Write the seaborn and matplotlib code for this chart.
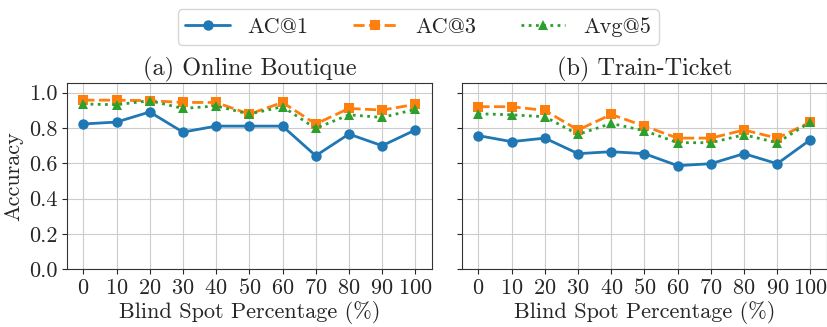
import pandas as pd
import numpy as np
import matplotlib
matplotlib.use('Agg')
import matplotlib.pyplot as plt
import seaborn as sns

# blind spot percentages
blind_spot = [0, 10, 20, 30, 40, 50, 60, 70, 80, 90, 100]

# (a) Online Boutique
ob_ac1 = [0.823, 0.834, 0.891, 0.777, 0.811, 0.811, 0.811, 0.643, 0.766, 0.700, 0.789]
ob_ac3 = [0.958, 0.958, 0.955, 0.945, 0.945, 0.879, 0.945, 0.823, 0.911, 0.902, 0.934]
ob_avg5 = [0.936, 0.932, 0.955, 0.911, 0.925, 0.879, 0.921, 0.798, 0.875, 0.860, 0.906]

# (b) Train-Ticket
tt_ac1 = [0.757, 0.723, 0.743, 0.655, 0.666, 0.655, 0.587, 0.598, 0.655, 0.598, 0.734]
tt_ac3 = [0.921, 0.921, 0.900, 0.789, 0.877, 0.811, 0.743, 0.743, 0.789, 0.743, 0.834]
tt_avg5 = [0.881, 0.875, 0.864, 0.764, 0.826, 0.785, 0.717, 0.717, 0.762, 0.717, 0.834]

metrics = ['AC@1', 'AC@3', 'Avg@5']
titles = ['(a) Online Boutique', '(b) Train-Ticket']

sns.set_style('ticks')
plt.rcParams['font.family'] = ['cmr10', 'DejaVu Serif']
plt.rcParams['mathtext.fontset'] = 'cm'
plt.rcParams['axes.formatter.use_mathtext'] = True


def make_df(ac1, ac3, avg5):
    rows = []
    for name, vals in zip(metrics, [ac1, ac3, avg5]):
        for x, v in zip(blind_spot, vals):
            rows.append({'Blind Spot': x, 'Metric': name, 'Accuracy': v})
    return pd.DataFrame(rows)


dfs = [make_df(ob_ac1, ob_ac3, ob_avg5), make_df(tt_ac1, tt_ac3, tt_avg5)]

palette = {'AC@1': '#1f77b4', 'AC@3': '#ff7f0e', 'Avg@5': '#2ca02c'}
markers = {'AC@1': 'o', 'AC@3': 's', 'Avg@5': '^'}
dashes = {'AC@1': '', 'AC@3': (4, 1.6), 'Avg@5': (1, 1.6)}

fig, axes = plt.subplots(1, 2, figsize=(8.28, 3.27), dpi=100, sharey=True)
fig.subplots_adjust(left=0.0806, right=0.9988, bottom=0.1765, top=0.745, wspace=0.082)

for ax, df, title in zip(axes, dfs, titles):
    sns.lineplot(data=df, x='Blind Spot', y='Accuracy', hue='Metric', style='Metric',
                 palette=palette, markers=markers, dashes=dashes,
                 markersize=7.5, markeredgewidth=0, linewidth=2, ax=ax)
    ax.set_title(title, fontsize=17.5, pad=6)
    ax.set_xticks(blind_spot)
    ax.set_ylim(0, 1.053)
    ax.set_yticks([0.0, 0.2, 0.4, 0.6, 0.8, 1.0])
    ax.set_yticklabels(['0.0', '0.2', '0.4', '0.6', '0.8', '1.0'])
    ax.grid(True, color='#cccccc', linewidth=0.8)
    ax.set_axisbelow(True)
    ax.set_xlabel('Blind Spot Percentage (%)', fontsize=16, labelpad=2)
    ax.tick_params(labelsize=16, pad=3)
    for s in ax.spines.values():
        s.set_visible(True)
        s.set_color('#333333')
    ax.get_legend().remove()

axes[0].set_ylabel('Accuracy', fontsize=16)
axes[1].set_ylabel('')

handles, labels = axes[0].get_legend_handles_labels()
fig.legend(handles, labels, loc='upper center', ncol=3, bbox_to_anchor=(0.505, 1.005),
           frameon=True, fontsize=16, handlelength=2.0, columnspacing=2.0,
           edgecolor='#cccccc', borderpad=0.35)

fig.savefig('out.png', dpi=100)
